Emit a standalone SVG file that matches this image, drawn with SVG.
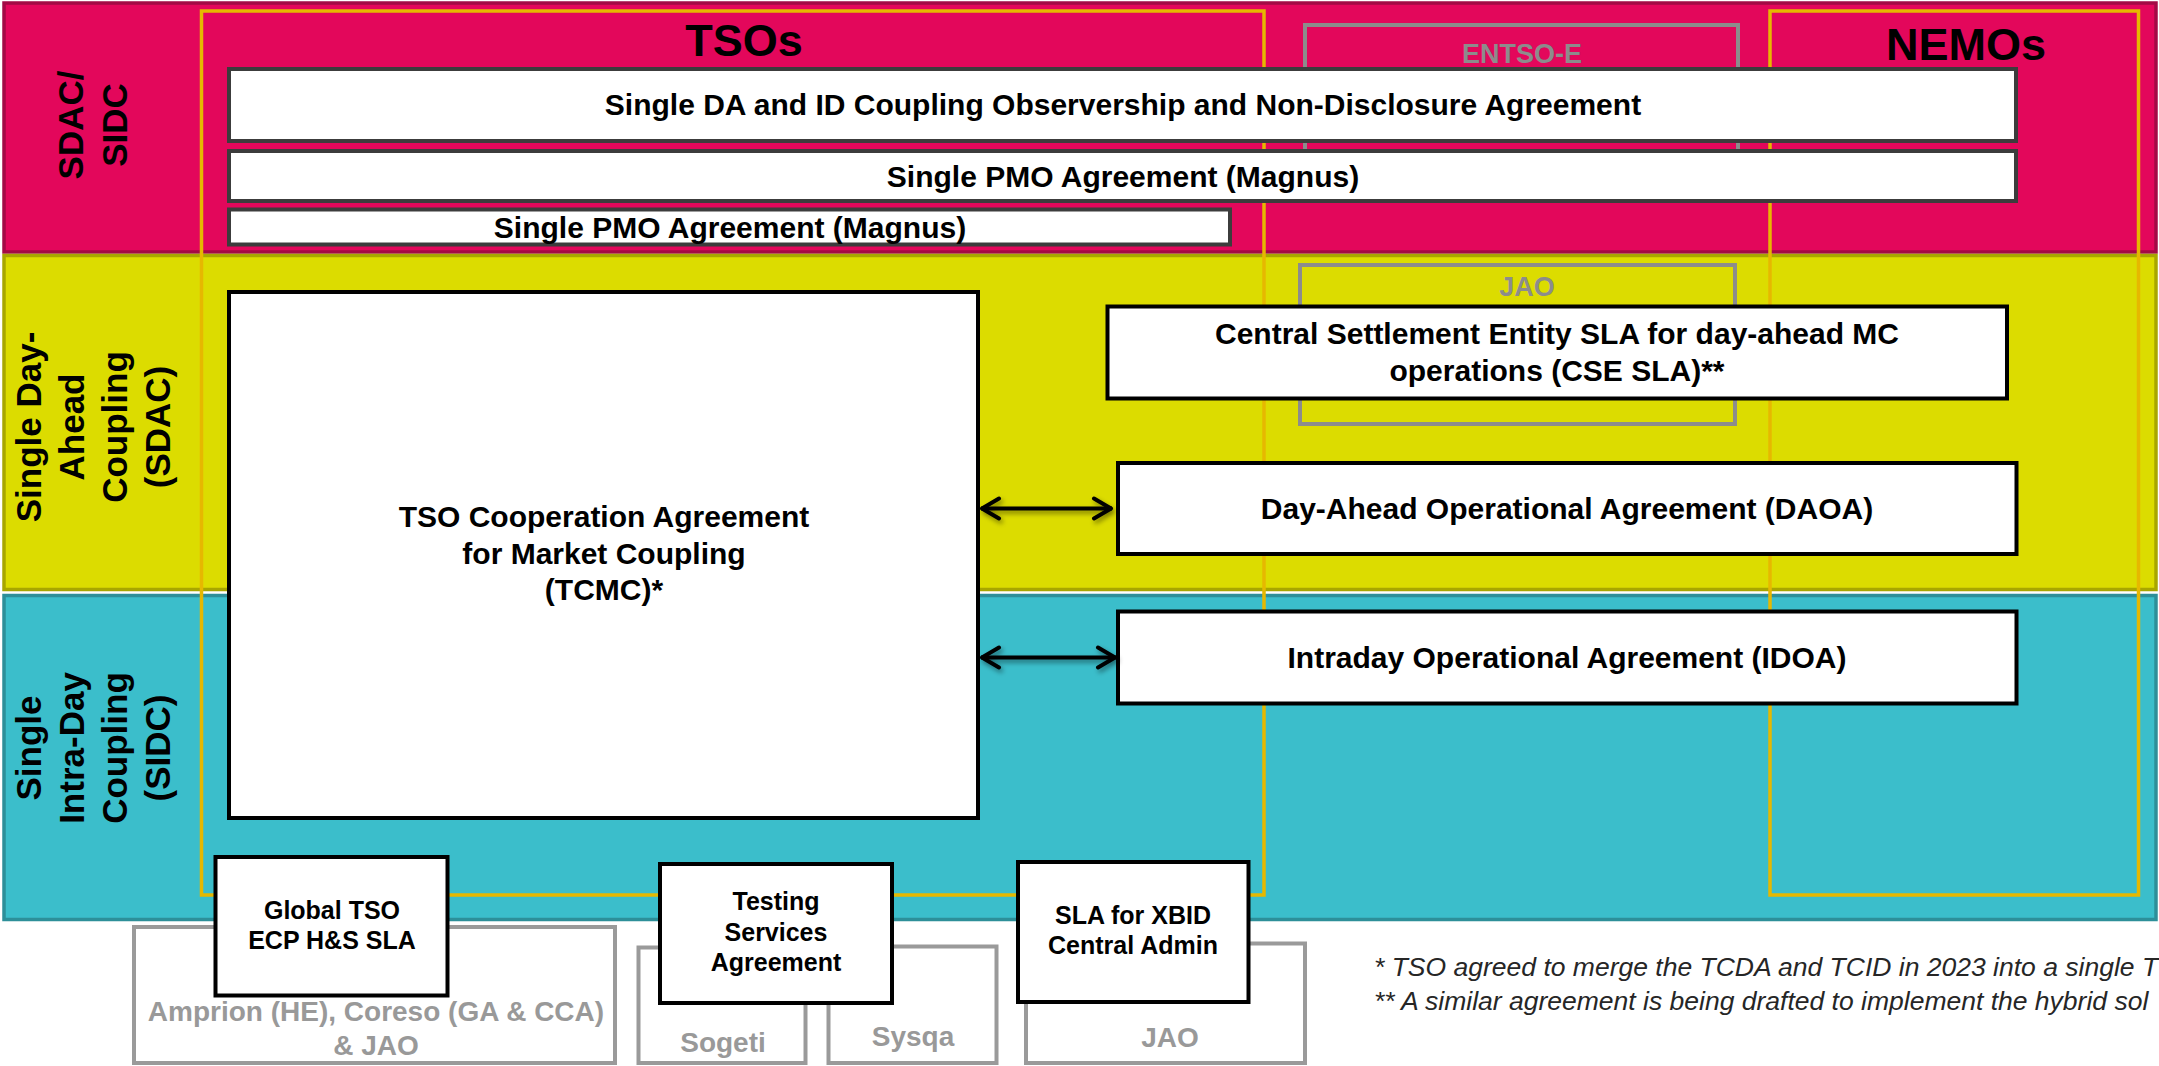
<svg xmlns="http://www.w3.org/2000/svg" width="2159" height="1066" viewBox="0 0 2159 1066">
<defs>
<style>
.band-lbl{font-family:"Liberation Sans",Arial,sans-serif;font-weight:bold;font-size:35px;fill:#000;text-anchor:middle}
.head{font-family:"Liberation Sans",Arial,sans-serif;font-weight:bold;font-size:45px;fill:#000;text-anchor:middle}
.t30{font-family:"Liberation Sans",Arial,sans-serif;font-weight:bold;font-size:30px;fill:#000;text-anchor:middle}
.t25{font-family:"Liberation Sans",Arial,sans-serif;font-weight:bold;font-size:25px;fill:#000;text-anchor:middle}
.g27{font-family:"Liberation Sans",Arial,sans-serif;font-weight:bold;font-size:27px;fill:#8C8C8C;text-anchor:middle}
.g28{font-family:"Liberation Sans",Arial,sans-serif;font-weight:bold;font-size:28px;fill:#999999;text-anchor:middle}
.foot{font-family:"Liberation Sans",Arial,sans-serif;font-style:italic;font-size:26.5px;fill:#262626}
.box{fill:#fff;stroke:#000;stroke-width:4}
.bar{fill:#fff;stroke:#3C3C3C;stroke-width:4}
.org{fill:none;stroke:#E6B800;stroke-width:3.5}
.gbox{fill:none;stroke:#8C8C8C;stroke-width:4}
.gbox2{fill:none;stroke:#9A9A9A;stroke-width:4}
.conn{fill:none;stroke:#000;stroke-width:4;marker-start:url(#chev);marker-end:url(#chev)}
</style>
<marker id="chev" viewBox="-22 -13 24 26" refX="0" refY="0" markerWidth="24" markerHeight="26" orient="auto-start-reverse" markerUnits="userSpaceOnUse">
<path d="M-18,-10 L-1,0 L-18,10" fill="none" stroke="#000" stroke-width="4" stroke-linecap="round" stroke-linejoin="round"/>
</marker>
<filter id="shadow" filterUnits="userSpaceOnUse" x="900" y="450" width="300" height="280">
<feDropShadow dx="2" dy="3" stdDeviation="2.5" flood-color="#000" flood-opacity="0.45"/>
</filter>
</defs>

<g id="bands">
<rect id="band-sdac-sidc" x="4" y="3" width="2152" height="249" fill="#E3075B" stroke="#A30A45" stroke-width="3.5"/>
<rect id="band-sdac" x="4" y="255.5" width="2152" height="334" fill="#DCDC00" stroke="#A8A600" stroke-width="3.5"/>
<rect id="band-sidc" x="4" y="595.5" width="2152" height="324" fill="#3BBECB" stroke="#2D8F99" stroke-width="3.5"/>
<text class="band-lbl" transform="translate(0,125) rotate(-90)"><tspan x="0" y="83">SDAC/</tspan><tspan x="0" y="127">SIDC</tspan></text>
<text class="band-lbl" transform="translate(0,427) rotate(-90)"><tspan x="0" y="41">Single Day-</tspan><tspan x="0" y="84">Ahead</tspan><tspan x="0" y="127">Coupling</tspan><tspan x="0" y="170">(SDAC)</tspan></text>
<text class="band-lbl" transform="translate(0,748) rotate(-90)"><tspan x="0" y="41">Single</tspan><tspan x="0" y="84">Intra-Day</tspan><tspan x="0" y="127">Coupling</tspan><tspan x="0" y="170">(SIDC)</tspan></text>
</g>

<g id="tsos">
<rect class="org" x="201.5" y="11" width="1062.5" height="884"/>
<text class="head" x="744" y="56">TSOs</text>
</g>
<g id="nemos">
<rect class="org" x="1770" y="11" width="368.5" height="884"/>
<text class="head" x="1966" y="60">NEMOs</text>
</g>
<g id="entsoe">
<rect class="gbox" x="1305" y="25" width="433" height="150"/>
<text class="g27" x="1522" y="63">ENTSO-E</text>
</g>
<g id="jao-top">
<rect class="gbox" x="1300" y="265" width="435" height="159"/>
<text class="g27" x="1527" y="296">JAO</text>
</g>

<g id="bar-observership">
<rect class="bar" x="229" y="69" width="1787" height="72"/>
<text class="t30" x="1123" y="115">Single DA and ID Coupling Observership and Non-Disclosure Agreement</text>
</g>
<g id="bar-pmo-full">
<rect class="bar" x="229" y="151" width="1787" height="50"/>
<text class="t30" x="1123" y="186.5">Single PMO Agreement (Magnus)</text>
</g>
<g id="bar-pmo-tso">
<rect class="bar" x="229" y="209.5" width="1001" height="35"/>
<text class="t30" x="730" y="237.5">Single PMO Agreement (Magnus)</text>
</g>

<g id="tcmc">
<rect class="box" x="229" y="292" width="749" height="526"/>
<text class="t30"><tspan x="604" y="527">TSO Cooperation Agreement</tspan><tspan x="604" y="564">for Market Coupling</tspan><tspan x="604" y="600">(TCMC)*</tspan></text>
</g>
<g id="cse-sla">
<rect class="box" x="1107.5" y="306.5" width="899.5" height="92"/>
<text class="t30"><tspan x="1557" y="344">Central Settlement Entity SLA for day-ahead MC</tspan><tspan x="1557" y="380.5">operations (CSE SLA)**</tspan></text>
</g>
<g id="daoa">
<rect class="box" x="1118" y="463" width="898.5" height="91"/>
<text class="t30" x="1567" y="518.5">Day-Ahead Operational Agreement (DAOA)</text>
</g>
<g id="idoa">
<rect class="box" x="1118" y="611.5" width="898.5" height="92"/>
<text class="t30" x="1567" y="668">Intraday Operational Agreement (IDOA)</text>
</g>

<g id="connectors" filter="url(#shadow)">
<path class="conn" d="M981,508.5 H1112"/>
<path class="conn" d="M981,657.5 H1116"/>
</g>

<g id="amprion">
<rect class="gbox2" x="134" y="927" width="481" height="136"/>
<text class="g28"><tspan x="376" y="1021">Amprion (HE), Coreso (GA &amp; CCA)</tspan><tspan x="376" y="1055">&amp; JAO</tspan></text>
</g>
<g id="sogeti">
<rect class="gbox2" x="638.5" y="947.5" width="167" height="115.5"/>
<text class="g28" x="723" y="1052">Sogeti</text>
</g>
<g id="sysqa">
<rect class="gbox2" x="828.5" y="946.5" width="168" height="116.5"/>
<text class="g28" x="913" y="1046">Sysqa</text>
</g>
<g id="jao-bottom">
<rect class="gbox2" x="1026" y="943.5" width="279" height="119.5"/>
<text class="g28" x="1170" y="1047">JAO</text>
</g>

<g id="global-tso-sla">
<rect class="box" x="215.5" y="857" width="232" height="138.5"/>
<text class="t25"><tspan x="332" y="919">Global TSO</tspan><tspan x="332" y="949">ECP H&amp;S SLA</tspan></text>
</g>
<g id="testing-services">
<rect class="box" x="660" y="864" width="232" height="139"/>
<text class="t25"><tspan x="776" y="910">Testing</tspan><tspan x="776" y="940.5">Services</tspan><tspan x="776" y="971">Agreement</tspan></text>
</g>
<g id="xbid-sla">
<rect class="box" x="1018" y="862" width="230.5" height="140"/>
<text class="t25"><tspan x="1133" y="924">SLA for XBID</tspan><tspan x="1133" y="954">Central Admin</tspan></text>
</g>

<g id="footnotes">
<text class="foot" x="1374" y="976">* TSO agreed to merge the TCDA and TCID in 2023 into a single T</text>
<text class="foot" x="1374" y="1009.5">** A similar agreement is being drafted to implement the hybrid sol</text>
</g>
</svg>
